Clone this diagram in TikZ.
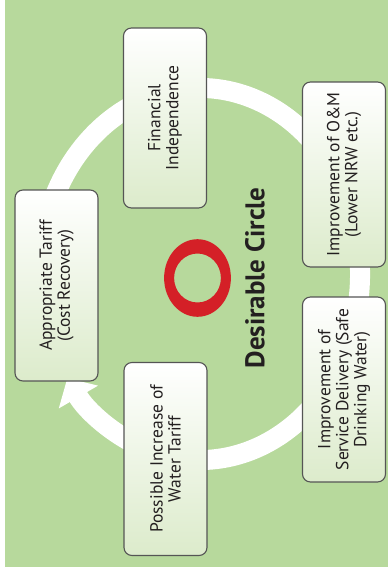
\documentclass[tikz,border=0pt]{standalone}
\usepackage{fontspec}
\setmainfont{PT Sans}
\usetikzlibrary{arrows.meta}

\definecolor{fundo}{HTML}{B7D99C}
\definecolor{caixaverde}{HTML}{DCEBCB}
\definecolor{borda}{HTML}{555555}
\definecolor{texto}{HTML}{231F20}
\definecolor{anel}{HTML}{D42027}

\tikzset{
  caixa/.style={draw=borda, line width=1.1pt, rounded corners=8pt,
    top color=white, bottom color=caixaverde, rotate=90,
    minimum height=83pt, align=center, text=texto,
    font=\fontsize{17.5}{18}\selectfont},
}

\begin{document}
\begin{tikzpicture}[x=1pt,y=-1pt]
  \useasboundingbox (0,0) rectangle (388,574);
  \fill[white] (0,0) rectangle (388,574);
  \fill[fundo] (5,0) rectangle (388,567);

  % centro do ciclo e do anel vermelho
  \coordinate (c) at (200,274);
  \coordinate (r) at (197.5,278);

  % seta branca do ciclo
  \draw[white,line width=20pt,-{Triangle[width=44pt,length=22pt]}]
    (c) ++(200:160 and 186) arc[start angle=200,end angle=506,x radius=160,y radius=186];

  \node[caixa,minimum width=180pt] (fin) at (165,118) {Financial\\Independence};
  \node[caixa,minimum width=185pt] (om) at (344,174.5) {Improvement of O\&M\\(Lower NRW etc.)};
  \node[caixa,minimum width=185pt] (serv) at (344,389.5) {Improvement of\\Service Delivery (Safe\\Drinking Water)};
  \node[caixa,minimum width=193pt] (aum) at (165.5,459) {Possible Increase of\\Water Tariff};
  \node[caixa,minimum width=191pt] (tar) at (56.5,285.5) {Appropriate Tariff\\(Cost Recovery)};

  % anel vermelho
  \fill[anel,even odd rule] (r) ellipse[x radius=33.4,y radius=38.8]
    (r) ellipse[x radius=23.4,y radius=24.5];
  \node[rotate=90,text=texto,font=\fontsize{27}{27}\bfseries\selectfont] (titulo) at (255,278) {Desirable Circle};
\end{tikzpicture}
\end{document}
